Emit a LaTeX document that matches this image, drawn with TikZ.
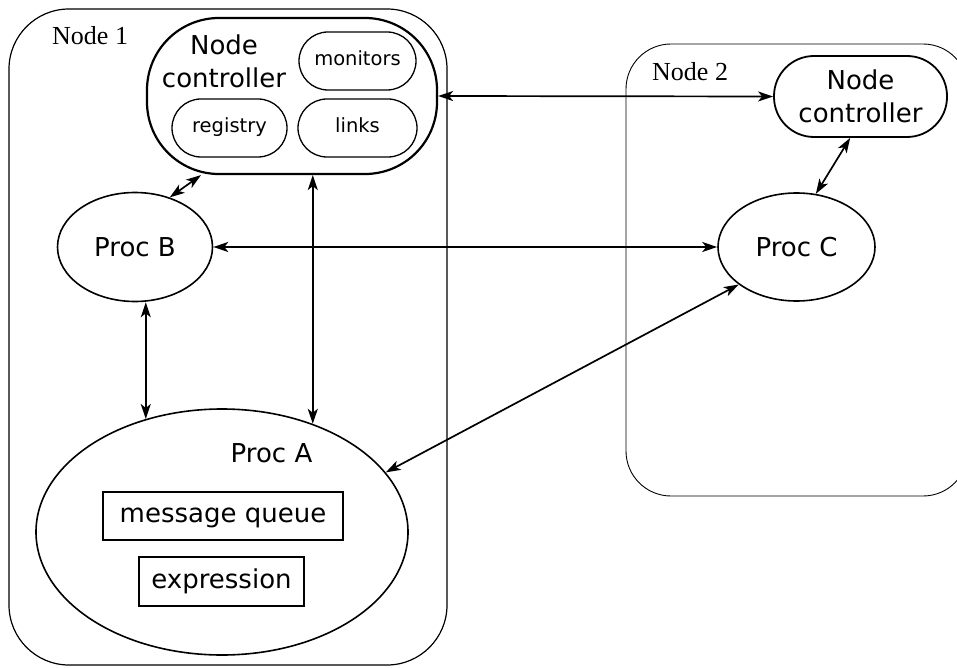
\documentclass[tikz,border=0pt]{standalone}
\usepackage{fontspec}
\setmainfont{Liberation Serif}
\newfontfamily\dvs{DejaVu Sans}
\usetikzlibrary{arrows.meta,shapes.geometric}
\begin{document}
\begin{tikzpicture}[x=1pt,y=-1pt,
  big/.style={font=\dvs\fontsize{26pt}{33pt}\selectfont},
  small/.style={font=\dvs\fontsize{19.5pt}{24pt}\selectfont},
  region/.style={draw=black,line width=1.2pt},
  proc/.style={draw,ellipse,line width=1.6pt,inner sep=0pt,big},
  pill/.style={draw,line width=1.3pt,inner sep=0pt,small,minimum height=58pt,rounded corners=29pt,text height=14pt,text depth=4pt},
  ctl/.style={draw,line width=2.2pt,inner sep=0pt},
  databox/.style={draw,line width=2pt,inner sep=0pt,big,text height=19pt,text depth=5.4pt},
  arr/.style={{Stealth[length=15pt,width=10pt,inset=4pt]}-{Stealth[length=15pt,width=10pt,inset=4pt]},line width=1.7pt},
  lbl/.style={font=\fontsize{26pt}{30pt}\selectfont,inner sep=0pt,anchor=base west}]
\clip (0,0) rectangle (957,668);
% regions
\draw[region,rounded corners=60pt] (9,9) rectangle (447,665);
\draw[region,line width=0.9pt,rounded corners=45pt] (626,44) rectangle (968,496);
\node[lbl] (n1) at (52,45) {Node 1};
\node[lbl] (n2) at (652,81) {Node 2};
% node controller 1
\node[ctl,minimum width=290pt,minimum height=156pt,rounded corners=72pt] (nc1) at (292,96) {};
\node[big,align=center,inner sep=0pt] (nc1t) at (224,61) {Node\\controller};
\node[pill,minimum width=117pt] (mon) at (357.5,61) {monitors};
\node[pill,minimum width=115pt] (reg) at (229.5,128) {registry};
\node[pill,minimum width=119pt] (lnk) at (357.5,128) {links};
% node controller 2
\node[ctl,line width=1.8pt,big,align=center,minimum width=173pt,minimum height=81pt,rounded corners=40pt] (nc2) at (860.5,96.5) {Node\\controller};
% processes
\node[proc,minimum width=155pt,minimum height=109pt,text height=19pt,text depth=0pt] (pb) at (135,247) {Proc B};
\node[proc,minimum width=157pt,minimum height=108pt,text height=19pt,text depth=0pt] (pc) at (796.5,247) {Proc C};
\node[proc,minimum width=372pt,minimum height=246pt] (pa) at (222,532) {};
\node[big,inner sep=0pt,anchor=base] (pat) at (271.5,462) {Proc A};
\node[databox,minimum width=240pt,minimum height=48pt] (mq) at (223,516) {message queue};
\node[databox,minimum width=165pt,minimum height=49pt] (ex) at (221.5,581.5) {expression};
% connectors
\draw[arr] (nc1.east) -- (nc2.west);
\draw[arr] (nc1.221.5) -- (pb.55);
\draw[arr] (pa.50.5 |- nc1.south) -- (pa.50.5);
\draw[arr] (pb.east) -- (pc.west);
\draw[arr] (pa.124.5 |- pb.south) -- (pa.124.5);
\draw[arr] (pa.20) -- (pc.213);
\draw[arr] (nc2.256) -- (pc.70.6);
\end{tikzpicture}
\end{document}
